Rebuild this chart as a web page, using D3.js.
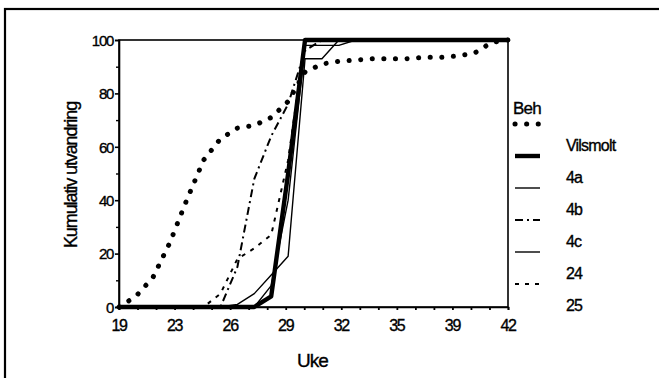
<!DOCTYPE html>
<html><head><meta charset="utf-8">
<script src="https://cdn.jsdelivr.net/npm/d3@7"></script>
<style>body{margin:0;background:#fff}svg{display:block}text{font-family:"Liberation Sans",Arial,sans-serif;fill:#000;stroke:#000;stroke-width:0.35px}</style>
</head><body><svg id="c" width="659" height="378"></svg>
<script>
const weeks = d3.range(19, 43);
const xTickLabels = ["19","23","26","29","32","35","39","42"];
const yTicks = [0,20,40,60,80,100];
const seriesNames = ["Vilsmolt","4a","4b","4c","24","25"];
const vilsmolt = [0,4,11,24,40,55,63,67,68,71,77,88,91,92,92.5,93,93,93,93.5,93.5,94,95,99,100];
const s4a = [0,0,0,0,0,0,0,0,0,4,50,100,100,100,100,100,100,100,100,100,100,100,100,100];
const s4b = [0,0,0,0,0,0,0,1,5,12,19,93,93,100,100,100,100,100,100,100,100,100,100,100];
const s4c = [0,0,0,0,0,0,0,15,48,64,76,96,100,100,100,100,100,100,100,100,100,100,100,100];
const s24 = [0,0,0,0,0,0,0,0,0,8,40,98,98,98,100,100,100,100,100,100,100,100,100,100];
const s25 = [0,0,0,0,0,0,5,18,22,27,55,100,100,100,100,100,100,100,100,100,100,100,100,100];
const seriesValues = [vilsmolt, s4a, s4b, s4c, s24, s25];
const styles = [
  {w:5, dash:"0.1 11.5", cap:"round"},
  {w:4.4, dash:null, cap:"butt"},
  {w:1.4, dash:null, cap:"butt"},
  {w:2, dash:"8 4 2 4", cap:"butt"},
  {w:1.4, dash:null, cap:"butt"},
  {w:2, dash:"4 6", cap:"butt"}
];
const svg = d3.select("#c");
svg.append("rect").attr("x",5).attr("y",9).attr("width",700).attr("height",420)
  .attr("fill","none").attr("stroke","#000").attr("stroke-width",2.2);

const x = d3.scaleLinear().domain([19,42]).range([119,508]);
const y = d3.scaleLinear().domain([0,100]).range([307,40]);

svg.append("rect").attr("x",x(19)).attr("y",y(100)).attr("width",x(42)-x(19)).attr("height",y(0)-y(100))
  .attr("fill","none").attr("stroke","#000").attr("stroke-width",1.6);

const line = d3.line().x((d,i)=>x(weeks[i])).y(d=>y(d));
seriesValues.forEach((vals,k)=>{
  const st = styles[k];
  svg.append("path").datum(vals).attr("d",line).attr("fill","none")
    .attr("stroke","#000").attr("stroke-width",st.w)
    .attr("stroke-dasharray",st.dash).attr("stroke-linecap",st.cap).attr("stroke-linejoin","round");
});

const yAxis = d3.axisLeft(y).tickValues(yTicks).tickSize(4).tickPadding(2).tickFormat(d3.format("d"));
const gy = svg.append("g").attr("transform",`translate(${x(19)},0)`).call(yAxis);
gy.select(".domain").attr("stroke-width",1.6);
gy.selectAll("line").attr("stroke-width",1.6);
gy.selectAll("text").style("font-size","15px").style("letter-spacing","-1.3px").attr("dy","0.35em");
svg.append("g").attr("transform",`translate(${x(19)},0)`)
  .call(d3.axisLeft(y).tickValues(d3.range(10,100,20)).tickSize(3).tickFormat(""))
  .call(g=>g.select(".domain").remove()).selectAll("line").attr("stroke-width",1.4);

const xTickVals = d3.range(22).map(i=>19+i*23/21);
const gx = svg.append("g").attr("transform",`translate(0,${y(0)})`)
  .call(d3.axisBottom(x).tickValues(xTickVals).tickSize(3).tickFormat(""));
gx.select(".domain").attr("stroke-width",1.6);
gx.selectAll("line").attr("stroke-width",1.8);
const labelVals = d3.range(0,22,3).map(i=>19+i*23/21);
svg.append("g").selectAll("text").data(labelVals).join("text")
  .attr("x",d=>x(d)).attr("y",325).attr("text-anchor","middle").attr("dy","0.35em")
  .style("font-size","16px").style("letter-spacing","-1.3px")
  .text((d,i)=>xTickLabels[i]);

svg.append("text").attr("x",x(19)+(x(42)-x(19))/2-1).attr("y",360).attr("text-anchor","middle").attr("dy","0.35em")
  .style("font-size","19px").style("letter-spacing","-1px").text("Uke");
svg.append("text").attr("transform","translate(71,175) rotate(-90)").attr("text-anchor","middle").attr("dy","0.35em")
  .style("font-size","18px").style("letter-spacing","-1.1px").text("Kumulativ utvandring");

svg.append("text").attr("x",513).attr("y",108).attr("dy","0.35em").style("font-size","17px").style("letter-spacing","-0.8px").text("Beh");
const lg = svg.append("g");
seriesNames.forEach((n,k)=>{
  const st = styles[k];
  const yy = 124 + k*32;
  lg.append("line").attr("x1",515).attr("x2",540).attr("y1",yy).attr("y2",yy)
    .attr("stroke","#000").attr("stroke-width",st.w).attr("stroke-dasharray",st.dash).attr("stroke-linecap",st.cap);
  lg.append("text").attr("x",566).attr("y",yy+21).attr("dy","0.35em")
    .style("font-size","16px").style("letter-spacing","-0.8px").text(n);
});
</script></body></html>
